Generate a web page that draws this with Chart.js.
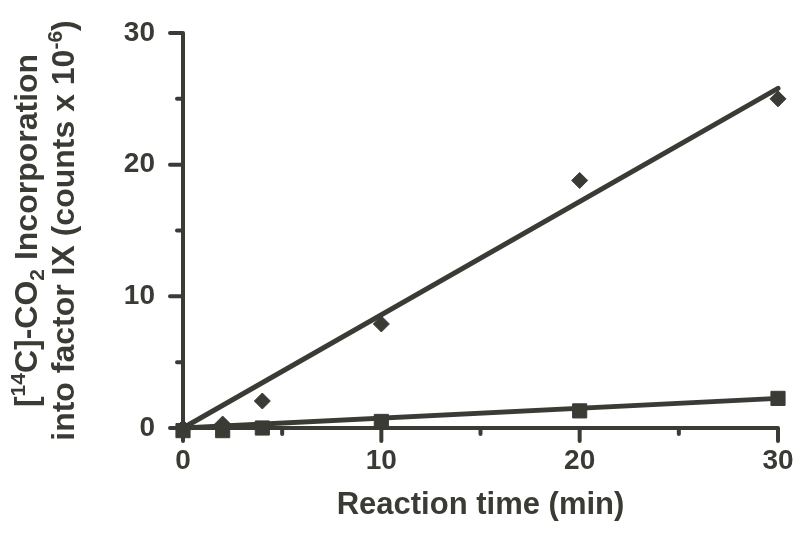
<!DOCTYPE html>
<html>
<head>
<meta charset="utf-8">
<script src="https://cdn.jsdelivr.net/npm/chart.js@4.4.1/dist/chart.umd.min.js"></script>
<style>
  html, body { margin: 0; padding: 0; background: #fff; }
  #wrap { width: 800px; height: 534px; }
</style>
</head>
<body>
<div id="wrap"><canvas id="chart"></canvas></div>
<script>
const ink = '#3b3b36';

// data
const reactionTime = [0, 2, 4, 10, 20, 30];
const diamonds = [0, 0.3, 2.05, 7.9, 18.8, 25.0];
const squares = [-0.2, -0.2, 0, 0.5, 1.3, 2.25];
const fitX = [0, 30];
const fitDiamonds = [0, 25.8];
const fitSquares = [0, 2.25];
const majorTicks = [0, 10, 20, 30];
const minorTicks = [5, 15, 25];

const pts = (xs, ys) => xs.map((v, i) => ({ x: v, y: ys[i] }));

// axis lines + ticks, major long / minor short
const axesPlugin = {
  id: 'axes',
  beforeDatasetsDraw(chart) {
    const { ctx, scales: { x, y } } = chart;
    const x0 = x.getPixelForValue(0), y0 = y.getPixelForValue(0);
    ctx.save();
    ctx.strokeStyle = ink;
    ctx.lineWidth = 4;
    ctx.lineCap = 'round';
    ctx.beginPath();
    ctx.moveTo(x0, y.getPixelForValue(30));
    ctx.lineTo(x0, y0);
    ctx.moveTo(x0, y0);
    ctx.lineTo(x.getPixelForValue(30), y0);
    const tick = (vals, len) => {
      vals.forEach(v => {
        const py = y.getPixelForValue(v);
        ctx.moveTo(x0, py); ctx.lineTo(x0 - len, py);
        const px = x.getPixelForValue(v);
        ctx.moveTo(px, y0); ctx.lineTo(px, y0 + len);
      });
    };
    tick(majorTicks, 13);
    tick(minorTicks, 6);
    ctx.stroke();
    ctx.restore();
  }
};

// y title with super/subscripts
const yTitlePlugin = {
  id: 'ytitle',
  afterDraw(chart) {
    const { ctx, chartArea } = chart;
    const big = 'bold 32px "Liberation Sans", Arial, sans-serif';
    const small = 'bold 21px "Liberation Sans", Arial, sans-serif';
    const lines = [
      { base: 37, segs: [['[', 0], ['14', -12], ['C]-CO', 0], ['2', 7], [' Incorporation', 0]] },
      { base: 74, segs: [['into factor IX (counts x 10', 0], ['-6', -12], [')', 0]] }
    ];
    const cy = (chartArea.top + chartArea.bottom) / 2;
    ctx.save();
    ctx.fillStyle = ink;
    ctx.textBaseline = 'alphabetic';
    ctx.textAlign = 'left';
    lines.forEach(line => {
      let w = 0;
      line.segs.forEach(([t, off]) => { ctx.font = off ? small : big; w += ctx.measureText(t).width; });
      ctx.save();
      ctx.translate(line.base, cy);
      ctx.rotate(-Math.PI / 2);
      let cx = -w / 2;
      line.segs.forEach(([t, off]) => {
        ctx.font = off ? small : big;
        ctx.fillText(t, cx, off);
        cx += ctx.measureText(t).width;
      });
      ctx.restore();
    });
    ctx.restore();
  }
};

const tickFont = { family: '"Liberation Sans", Arial, sans-serif', size: 28, weight: 'bold' };

new Chart(document.getElementById('chart'), {
  type: 'scatter',
  data: {
    datasets: [
      {
        label: 'fit diamonds',
        type: 'line',
        data: pts(fitX, fitDiamonds),
        borderColor: ink,
        borderWidth: 5,
        borderCapStyle: 'round',
        pointRadius: 0,
        clip: false
      },
      {
        label: 'fit squares',
        type: 'line',
        data: pts(fitX, fitSquares),
        borderColor: ink,
        borderWidth: 5,
        borderCapStyle: 'round',
        pointRadius: 0,
        clip: false
      },
      {
        label: 'diamonds',
        data: pts(reactionTime, diamonds),
        pointStyle: 'rectRot',
        pointRadius: 8,
        backgroundColor: ink,
        borderColor: ink,
        borderWidth: 1,
        clip: false
      },
      {
        label: 'squares',
        data: pts(reactionTime, squares),
        pointStyle: 'rect',
        pointRadius: 10,
        backgroundColor: ink,
        borderColor: ink,
        borderWidth: 1,
        clip: false
      }
    ]
  },
  options: {
    responsive: true,
    maintainAspectRatio: false,
    animation: false,
    layout: { padding: { left: 0, right: 22, top: 33, bottom: 0 } },
    plugins: {
      legend: { display: false },
      tooltip: { enabled: false }
    },
    scales: {
      x: {
        type: 'linear',
        min: 0,
        max: 30,
        afterFit(scale) {
          scale.height = 106;
          scale.paddingLeft = 0;
          scale.paddingRight = 0;
        },
        border: { display: false },
        grid: { display: false, drawTicks: false },
        ticks: { stepSize: 10, color: ink, font: tickFont, padding: 16, maxRotation: 0 },
        title: {
          display: true,
          text: 'Reaction time (min)',
          color: ink,
          font: { family: '"Liberation Sans", Arial, sans-serif', size: 31, weight: 'bold' },
          padding: { top: 0, bottom: 10 }
        }
      },
      y: {
        type: 'linear',
        min: 0,
        max: 30,
        afterFit(scale) {
          scale.width = 183;
          scale.paddingTop = 0;
          scale.paddingBottom = 0;
        },
        border: { display: false },
        grid: { display: false, drawTicks: false },
        ticks: { stepSize: 10, color: ink, font: tickFont, padding: 28 }
      }
    }
  },
  plugins: [axesPlugin, yTitlePlugin]
});
</script>
</body>
</html>
